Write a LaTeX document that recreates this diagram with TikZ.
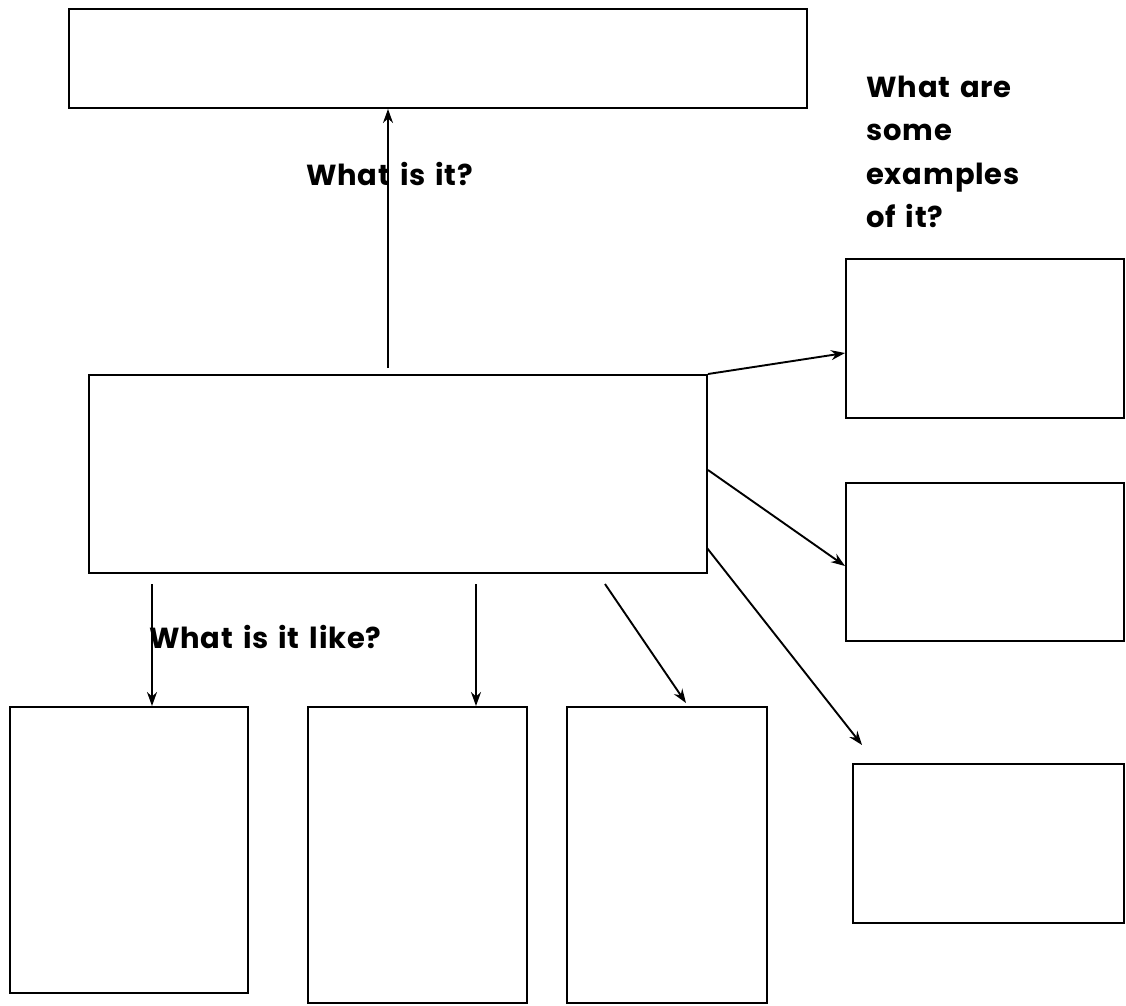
\documentclass[tikz,border=0pt]{standalone}
\usepackage{fontspec}
\setmainfont{Poppins}[LetterSpace=3,WordSpace=1.4]
\usetikzlibrary{arrows.meta}
\begin{document}
\begin{tikzpicture}[x=1pt,y=-1pt,
  box/.style={draw, line width=2pt, fill=none, inner sep=0pt},
  arr/.style={line width=1.9pt, -{Stealth[length=14pt,width=10pt]}},
  lbl/.style={font=\fontsize{29}{43.5}\selectfont\bfseries, inner sep=0pt, anchor=base west}]
\useasboundingbox (0,0) rectangle (1126,1005);
\node[box, minimum width=738pt, minimum height=99pt] (top) at (438,58.5) {};
\node[box, minimum width=618pt, minimum height=198pt] (ctr) at (398,474) {};
\node[box, minimum width=278pt, minimum height=159pt] (r1) at (985,338.5) {};
\node[box, minimum width=278pt, minimum height=158pt] (r2) at (985,562) {};
\node[box, minimum width=271pt, minimum height=159pt] (r3) at (988.5,843.5) {};
\node[box, minimum width=238pt, minimum height=286pt] (b1) at (129,850) {};
\node[box, minimum width=219pt, minimum height=296pt] (b2) at (417.5,855) {};
\node[box, minimum width=200pt, minimum height=296pt] (b3) at (667,855) {};
\coordinate (s0) at (388,368);
\coordinate (sb1) at (152,584);
\coordinate (sb2) at (476,584);
\coordinate (sb3) at (605,584);
\coordinate (e3) at (686,703);
\coordinate (er3) at (862,745);
\coordinate (sr3) at (707,548);
\draw[arr] (s0) -- (s0 |- top.south);
\draw[arr] (ctr.north east) -- (r1.west |- 0,353);
\draw[arr] (ctr.east |- 0,470) -- (r2.west |- 0,566);
\draw[arr] (sr3) -- (er3);
\draw[arr] (sb1) -- (sb1 |- b1.north);
\draw[arr] (sb2) -- (sb2 |- b2.north);
\draw[arr] (sb3) -- (e3);
\node[lbl] (q1) at (306,185) {What is it?};
\node[lbl] (q2a) at (866,97) {What are};
\node[lbl] (q2b) at (866,140.5) {some};
\node[lbl] (q2c) at (866,184) {examples};
\node[lbl] (q2d) at (866,227.5) {of it?};
\node[lbl] (q3) at (149,648) {What is it like?};
\end{tikzpicture}
\end{document}
